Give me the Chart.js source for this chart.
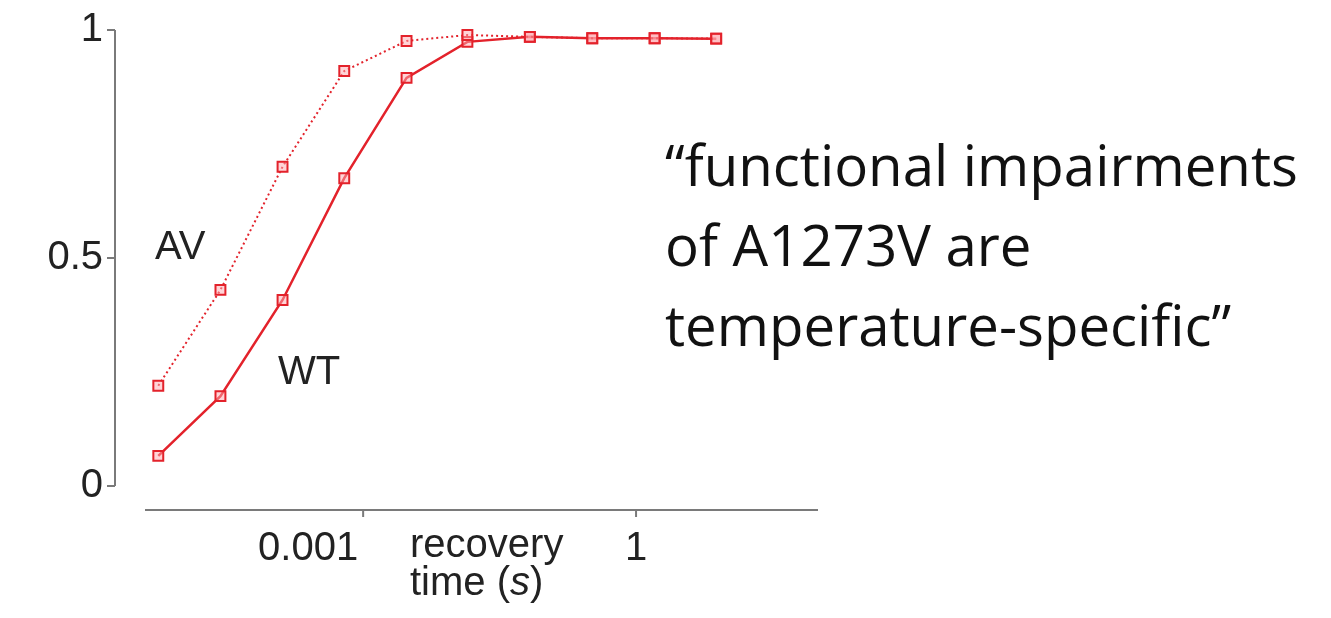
<!DOCTYPE html>
<html>
<head>
<meta charset="utf-8">
<script src="https://cdn.jsdelivr.net/npm/chart.js@4"></script>
<style>
  html, body { margin: 0; padding: 0; background: #fff; }
  #wrap { position: relative; width: 1331px; height: 618px; }
  canvas { position: absolute; left: 0; top: 0; }
  .lbl { position: absolute; font-family: "Liberation Sans", Arial, sans-serif; font-size: 40px; line-height: 40px; color: #222; white-space: nowrap; }
  #xtitle { line-height: 38px; }
  #quote { position: absolute; left: 665px; top: 125px; font-family: "Open Sans", "Noto Sans", sans-serif; line-height: 80px; color: #111; white-space: nowrap; }
</style>
</head>
<body>
<div id="wrap">
  <canvas id="recoveryChart" width="1331" height="618"></canvas>
  <div class="lbl" style="left:155px; top:225px;">AV</div>
  <div class="lbl" style="left:278px; top:350px;">WT</div>
  <div class="lbl" id="xtitle" style="left:410px; top:524px;">recovery<br>time (<i>s</i>)</div>
  <div id="quote">“functional impairments<br>of A1273V are<br>temperature-specific”</div>
</div>
<script>
// recovery time (s)
const recoveryTime = [5.6e-6, 2.7e-5, 1.3e-4, 6.2e-4, 3.0e-3, 1.4e-2, 6.8e-2, 0.33, 1.6, 7.6];
// fraction recovered
const avFraction = [0.22, 0.43, 0.70, 0.91, 0.976, 0.989, 0.985, 0.982, 0.982, 0.981];
const wtFraction = [0.066, 0.197, 0.408, 0.675, 0.895, 0.974, 0.985, 0.982, 0.982, 0.981];

const xTickValues = [0.001, 1];
const xTickLabels = ['0.001', '1'];
const xTickAlign = ['right', 'center'];
const yTickValues = [0, 0.5, 1];
const yTickLabels = ['0', '0.5', '1'];

const red = '#e3222b';
const axisColor = '#7a7a7a';
const labelFont = '40px "Liberation Sans", Arial, sans-serif';

// fit the quote to the width it has in the picture
const quote = document.getElementById('quote');
const mctx = document.createElement('canvas').getContext('2d');
mctx.font = '100px "Open Sans"';
const w100 = mctx.measureText('“functional impairments').width;
quote.style.fontSize = (100 * 633 / w100).toFixed(1) + 'px';

// detached axes, drawn a little away from the data area
const detachedAxes = {
  id: 'detachedAxes',
  afterDraw(chart) {
    const ctx = chart.ctx;
    const area = chart.chartArea;
    const xs = chart.scales.x;
    const ys = chart.scales.y;
    const axX = area.left - 30;
    const axY = area.bottom + 24;
    ctx.save();
    ctx.strokeStyle = axisColor;
    ctx.lineWidth = 2;
    ctx.beginPath();
    ctx.moveTo(axX, ys.getPixelForValue(1));
    ctx.lineTo(axX, ys.getPixelForValue(0));
    yTickValues.forEach((v) => {
      const py = ys.getPixelForValue(v);
      ctx.moveTo(axX - 8, py);
      ctx.lineTo(axX, py);
    });
    ctx.moveTo(area.left, axY);
    ctx.lineTo(area.right, axY);
    xTickValues.forEach((v) => {
      const px = xs.getPixelForValue(v);
      ctx.moveTo(px, axY);
      ctx.lineTo(px, axY + 7);
    });
    ctx.stroke();

    ctx.fillStyle = '#222';
    ctx.font = labelFont;
    // y tick labels
    ctx.textAlign = 'right';
    ctx.textBaseline = 'middle';
    yTickValues.forEach((v, i) => {
      ctx.fillText(yTickLabels[i], axX - 12, ys.getPixelForValue(v));
    });
    // x tick labels, 0.001 sits left of its tick
    ctx.textBaseline = 'alphabetic';
    xTickValues.forEach((v, i) => {
      const px = xs.getPixelForValue(v);
      ctx.textAlign = xTickAlign[i];
      ctx.fillText(xTickLabels[i], xTickAlign[i] === 'right' ? px - 5 : px, axY + 50);
    });
    ctx.restore();
  }
};

const ctx = document.getElementById('recoveryChart').getContext('2d');
const chart = new Chart(ctx, {
  type: 'line',
  data: {
    datasets: [
      {
        label: 'AV',
        data: recoveryTime.map((t, i) => ({ x: t, y: avFraction[i] })),
        borderColor: red,
        borderWidth: 2,
        borderDash: [2, 3],
        pointStyle: 'rect',
        pointRadius: 7,
        pointBorderWidth: 2,
        pointBorderColor: red,
        pointBackgroundColor: 'rgba(255,170,175,0.5)',
        clip: false,
      },
      {
        label: 'WT',
        data: recoveryTime.map((t, i) => ({ x: t, y: wtFraction[i] })),
        borderColor: red,
        borderWidth: 2.5,
        pointStyle: 'rect',
        pointRadius: 7,
        pointBorderWidth: 2,
        pointBorderColor: red,
        pointBackgroundColor: 'rgba(255,170,175,0.5)',
        clip: false,
      },
    ],
  },
  options: {
    responsive: false,
    animation: false,
    layout: { padding: { top: 30, right: 513, bottom: 0, left: 0 } },
    plugins: { legend: { display: false }, tooltip: { enabled: false } },
    scales: {
      x: {
        type: 'logarithmic',
        min: 4e-6,
        max: 100,
        grid: { display: false, drawTicks: false },
        border: { display: false },
        afterBuildTicks: (s) => { s.ticks = xTickValues.map((v) => ({ value: v })); },
        afterFit: (s) => { s.height = 132; },
        ticks: { display: false },
      },
      y: {
        type: 'linear',
        min: 0,
        max: 1,
        grid: { display: false, drawTicks: false },
        border: { display: false },
        afterBuildTicks: (s) => { s.ticks = yTickValues.map((v) => ({ value: v })); },
        afterFit: (s) => { s.width = 145; },
        ticks: { display: false },
      },
    },
  },
  plugins: [detachedAxes],
});
</script>
</body>
</html>
